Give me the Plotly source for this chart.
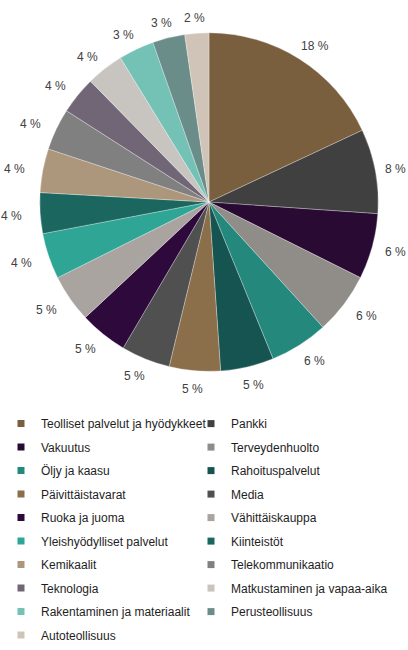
import math
import plotly.graph_objects as go

categories = [
    "Teolliset palvelut ja hyödykkeet", "Pankki", "Vakuutus", "Terveydenhuolto",
    "Öljy ja kaasu", "Rahoituspalvelut", "Päivittäistavarat", "Media",
    "Ruoka ja juoma", "Vähittäiskauppa", "Yleishyödylliset palvelut", "Kiinteistöt",
    "Kemikaalit", "Telekommunikaatio", "Teknologia", "Matkustaminen ja vapaa-aika",
    "Rakentaminen ja materiaalit", "Perusteollisuus", "Autoteollisuus",
]
values = [18.1, 8.1, 6.3, 5.9, 5.6, 5.1, 4.9, 4.7, 4.6, 4.6, 4.4, 3.9,
          4.2, 4.0, 3.6, 3.6, 3.4, 3.1, 2.3]
labels_text = [f"{v:.0f} %" for v in values]

colors = ["#7a5f3e", "#404040", "#280a33", "#908c88", "#24897c", "#155450",
          "#8b6e4a", "#505050", "#2e0a3c", "#a9a49f", "#2fa596", "#1c6660",
          "#ad977c", "#808080", "#716676", "#c8c4c0", "#74c1b5", "#6b8d8a",
          "#d0c4b8"]

FONT = "Liberation Sans"
W, H = 408, 650
# pie geometry (pixels)
CX, CY, R = 209, 203, 170
dom_x = [(CX - R) / W, (CX + R) / W]
dom_y = [1 - (CY + R) / H, 1 - (CY - R) / H]

fig = go.Figure()
fig.add_trace(go.Pie(
    labels=categories, values=values, textinfo="none", sort=False,
    direction="clockwise", rotation=0, showlegend=False,
    marker=dict(colors=colors, line=dict(color="white", width=0.3)),
    domain=dict(x=dom_x, y=dom_y), hoverinfo="label+percent",
))

# outside percentage labels placed at each slice's mid-angle
total = sum(values)
cum = 0.0
annotations = []
for v, t in zip(values, labels_text):
    mid = (cum + v / 2) / total * 2 * math.pi
    cum += v
    s, c = math.sin(mid), math.cos(mid)
    half_w = 3.4 * len(t)
    px = CX + 198 * s
    px = min(max(px, half_w + 1), W - half_w - 2)
    py = CY - 187 * c + 1.5
    annotations.append(dict(
        x=px / W, y=1 - py / H, xref="paper", yref="paper", text=t,
        showarrow=False, xanchor="center", yanchor="middle",
        font=dict(family=FONT, size=12, color="#404040"),
    ))

# legend entries in two columns
for i, (name, col) in enumerate(zip(categories, colors)):
    fig.add_trace(go.Scatter(
        x=[None], y=[None], mode="markers", name=name,
        marker=dict(symbol="square", size=7, color=col),
        legend="legend" if i % 2 == 0 else "legend2",
        legendgroup=f"g{i}", showlegend=True,
    ))

legend_common = dict(
    orientation="v", yanchor="top", xanchor="left",
    traceorder="grouped", tracegroupgap=4.5, itemwidth=30,
    font=dict(family=FONT, size=12, color="#1e1e1e"),
    bgcolor="rgba(0,0,0,0)", borderwidth=0,
)

fig.update_layout(
    width=W, height=H,
    margin=dict(l=0, r=0, t=0, b=0),
    paper_bgcolor="white", plot_bgcolor="white",
    font=dict(family=FONT),
    xaxis=dict(visible=False), yaxis=dict(visible=False),
    annotations=annotations,
    legend=dict(x=1 / W, y=1 - 411 / H, **legend_common),
    legend2=dict(x=191 / W, y=1 - 411 / H, **legend_common),
)

fig.write_html("out.html", config={"displayModeBar": False},
               post_script="document.body.style.margin='0';")
